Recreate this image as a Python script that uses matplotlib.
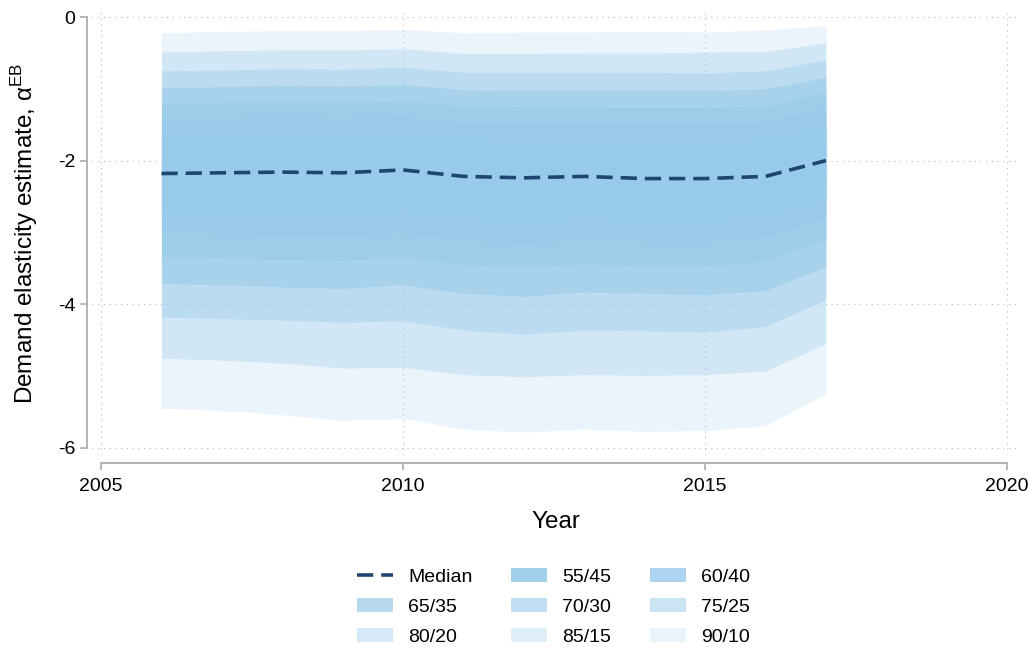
import matplotlib
matplotlib.use('Agg')
import matplotlib.pyplot as plt

plt.rcParams['font.family'] = ['Liberation Sans', 'DejaVu Sans']

years = list(range(2006, 2018))

median = [-2.18, -2.17, -2.16, -2.17, -2.13, -2.22, -2.24, -2.22, -2.25, -2.25, -2.22, -2.00]

# upper / lower percentile of each band, outermost first
p90 = [-0.22, -0.20, -0.19, -0.19, -0.17, -0.22, -0.21, -0.21, -0.20, -0.21, -0.18, -0.12]
p10 = [-5.45, -5.48, -5.54, -5.62, -5.59, -5.74, -5.78, -5.74, -5.77, -5.76, -5.69, -5.25]
p85 = [-0.49, -0.47, -0.46, -0.46, -0.44, -0.51, -0.51, -0.50, -0.50, -0.49, -0.48, -0.36]
p15 = [-4.75, -4.78, -4.82, -4.89, -4.88, -4.98, -5.01, -4.98, -4.99, -4.98, -4.93, -4.55]
p80 = [-0.75, -0.74, -0.72, -0.73, -0.70, -0.77, -0.77, -0.77, -0.77, -0.78, -0.75, -0.60]
p20 = [-4.18, -4.20, -4.22, -4.25, -4.23, -4.36, -4.42, -4.36, -4.37, -4.39, -4.31, -3.94]
p75 = [-0.99, -0.97, -0.95, -0.96, -0.94, -1.01, -1.02, -1.02, -1.02, -1.02, -1.00, -0.84]
p25 = [-3.71, -3.73, -3.76, -3.78, -3.73, -3.85, -3.89, -3.83, -3.85, -3.87, -3.81, -3.48]
p70 = [-1.22, -1.19, -1.18, -1.19, -1.17, -1.24, -1.25, -1.25, -1.26, -1.26, -1.24, -1.05]
p30 = [-3.34, -3.35, -3.38, -3.39, -3.34, -3.45, -3.48, -3.44, -3.47, -3.47, -3.40, -3.10]
p65 = [-1.43, -1.41, -1.40, -1.41, -1.39, -1.47, -1.49, -1.49, -1.49, -1.50, -1.46, -1.27]
p35 = [-3.00, -3.01, -3.03, -3.04, -3.00, -3.11, -3.14, -3.10, -3.12, -3.13, -3.05, -2.80]
p60 = [-1.68, -1.67, -1.66, -1.67, -1.63, -1.71, -1.73, -1.72, -1.74, -1.74, -1.71, -1.51]
p40 = [-2.73, -2.73, -2.74, -2.75, -2.70, -2.80, -2.83, -2.80, -2.82, -2.83, -2.77, -2.55]
p55 = [-1.93, -1.92, -1.91, -1.92, -1.88, -1.97, -1.99, -1.97, -2.00, -2.00, -1.97, -1.75]
p45 = [-2.45, -2.44, -2.44, -2.45, -2.41, -2.50, -2.52, -2.50, -2.53, -2.53, -2.49, -2.28]

band_labels = ['90/10', '85/15', '80/20', '75/25', '70/30', '65/35', '60/40', '55/45']
band_upper = [p90, p85, p80, p75, p70, p65, p60, p55]
band_lower = [p10, p15, p20, p25, p30, p35, p40, p45]
band_alpha = [0.2, 0.3, 0.4, 0.5, 0.6, 0.7, 0.8, 0.9]

x_ticks = [2005, 2010, 2015, 2020]
y_ticks = [0, -2, -4, -6]

fill_color = '#98caea'
median_color = '#1f4670'
axis_gray = '#a6a6a6'

fig = plt.figure(figsize=(10.29, 6.47), dpi=100)
ax = fig.add_axes([92 / 1029, 1 - 455 / 647, 928 / 1029, 445 / 647])

ax.set_xlim(2004.85, 2020.215)
ax.set_ylim(-6.10, 0.0975)

# dotted grid sits underneath the translucent bands
for xt in x_ticks:
    ax.axvline(xt, color='#b4b4b4', lw=0.75, ls=(0, (1, 4.5)), zorder=0)
for yt in y_ticks:
    ax.axhline(yt, color='#b4b4b4', lw=0.75, ls=(0, (1, 4.5)), zorder=0)

bands = {}
for lab, up, lo, a in zip(band_labels, band_upper, band_lower, band_alpha):
    bands[lab] = ax.fill_between(years, lo, up, color=fill_color, alpha=a,
                                 linewidth=0, label=lab, zorder=1)

med_line, = ax.plot(years, median, color=median_color, lw=2.6,
                    ls=(0, (4.5, 2.2)), label='Median', zorder=3)

for side in ['top', 'right']:
    ax.spines[side].set_visible(False)
ax.spines['left'].set_position(('outward', 3.6))
ax.spines['bottom'].set_position(('outward', 5.8))
ax.spines['left'].set_bounds(-6, 0)
ax.spines['bottom'].set_bounds(2005, 2020)
for side in ['left', 'bottom']:
    ax.spines[side].set_color(axis_gray)
    ax.spines[side].set_linewidth(1.2)

ax.set_xticks(x_ticks)
ax.set_yticks(y_ticks)
ax.set_yticklabels([str(t) for t in y_ticks])
ax.tick_params(axis='both', colors=axis_gray, labelcolor='black', length=5,
               width=1.1, labelsize=14)
ax.tick_params(axis='y', pad=3.5)
ax.tick_params(axis='x', pad=6)

ax.set_xlabel('Year', fontsize=17.5, labelpad=11)
ax.set_ylabel('Demand elasticity estimate, α$^{\\mathregular{EB}}$', fontsize=17.5)
ax.yaxis.set_label_coords(-0.056, 0.497)

# column-major order gives rows: Median/55/60, 65/70/75, 80/85/90
handles = [med_line, bands['65/35'], bands['80/20'],
           bands['55/45'], bands['70/30'], bands['85/15'],
           bands['60/40'], bands['75/25'], bands['90/10']]
fig.legend(handles=handles, labels=[h.get_label() for h in handles],
           loc='center', bbox_to_anchor=(0.538, 0.062), ncol=3, frameon=False,
           fontsize=14, handlelength=1.85, handleheight=0.75, handletextpad=0.78,
           columnspacing=2.0, labelspacing=0.62)

fig.savefig('out.png', dpi=100)
